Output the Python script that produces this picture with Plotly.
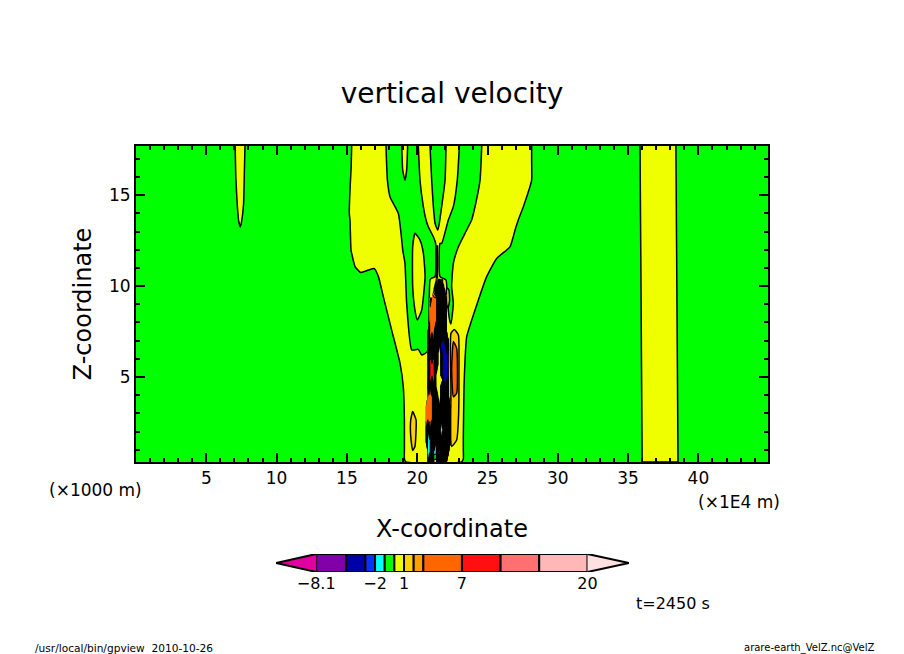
import numpy as np
import plotly.graph_objects as go

# ---- contour levels and their colours (colour bar order, low to high)
levels = [-8.1, -5, -3, -2, -1, 0, 1, 2, 3, 7, 11, 15, 20]
colors = ["#E000A0", "#7F00A8", "#0000A8", "#0033FF", "#00FFFF", "#00FF00", "#F0FF00",
          "#FFD000", "#FF9F00", "#FF6600", "#FF1010", "#FF7070", "#FFB8B8", "#FFE0E0"]
bar_labels = ["\u22128.1", "\u22122", "1", "7", "20"]
bar_label_values = [-8.1, -2, 1, 7, 20]
tip_low, tip_high = -12.26, 24.3

# ---- contour boundaries (X in 1E4 m, Z in 1000 m)
yellow_small_x = [7.05, 7.1, 7.2, 7.3, 7.42, 7.5, 7.65, 7.7, 7.75]
yellow_small_z = [17.7, 16, 14.5, 13.6, 13.25, 13.5, 14.5, 16, 17.7]
yellow_band_x = [35.85, 35.9, 36.0, 38.55, 38.45, 38.4]
yellow_band_z = [17.7, 10, 0.33, 0.33, 10, 17.7]
yellow_main_x = [15.34, 15.3, 15.22, 15.17, 15.22, 15.29, 15.34, 15.58, 15.98, 16.53, 16.95, 17.24, 17.59,
                 18.18, 18.78, 19.01, 19.09, 19.09, 19.09, 19.2, 23.15, 23.28, 23.28, 23.28, 23.33, 23.40,
                 23.52, 24.35, 24.94, 25.65, 26.6, 26.96, 27.19, 27.55, 28.14, 28.14, 28.14]
yellow_main_z = [17.7, 16.5, 15.27, 14.0, 13.63, 11.98, 11.8, 11.07, 10.75, 10.88, 10.96, 10.52, 9.42,
                 7.59, 5.75, 4.47, 2.64, 1.0, 0.5, 0.33, 0.33, 0.5, 1.0, 1.73, 4.47, 5.94,
                 7.22, 9.23, 10.52, 11.52, 12.16, 13.08, 13.63, 14.36, 15.82, 16.8, 17.7]
green_left_x = [17.78, 17.88, 18.07, 18.66, 18.9, 18.97, 19.13, 19.25, 19.61, 20.08, 20.32, 20.72,
                20.91, 21.03, 21.27, 21.31, 21.15, 20.79, 20.63, 20.44, 20.2, 20.08]
green_left_z = [17.7, 15.82, 14.9, 13.99, 12.53, 11.98, 11.25, 9.05, 6.49, 6.52, 6.21, 6.4,
                10.33, 10.43, 10.52, 12.35, 12.71, 13.26, 13.63, 14.36, 15.82, 17.7]
green_inner_x = [20.91, 21.03, 21.15, 21.27, 21.46, 21.57, 21.74, 21.98, 22.05]
green_inner_z = [17.7, 15.82, 14.36, 13.44, 13.07, 13.44, 14.36, 15.82, 17.7]
green_right_x = [23.0, 22.85, 22.57, 22.21, 21.74, 21.62, 21.62, 22.05, 22.14, 22.33, 22.4, 22.57,
                 22.45, 22.57, 22.93, 23.4, 23.87, 24.11, 24.47, 24.59]
green_right_z = [17.7, 15.82, 14.36, 13.62, 12.34, 12.35, 10.52, 10.33, 9.23, 8.04, 7.92, 9.05,
                 9.97, 11.25, 12.16, 12.9, 13.63, 14.36, 15.82, 17.7]
yellow_finger_x = [18.9, 18.97, 19.13, 19.25, 19.32]
yellow_finger_z = [17.7, 16.37, 15.82, 16.37, 17.7]
yellow_tongue_x = [19.84, 19.68, 19.68, 19.84, 20.01, 20.32, 20.56, 20.44, 20.2]
yellow_tongue_z = [12.9, 12.17, 9.97, 8.68, 8.14, 8.68, 10.52, 11.8, 12.53]
gold_right_x = [22.64, 22.93, 22.97, 22.93, 22.81, 22.45, 22.4, 22.4]
gold_right_z = [7.62, 7.31, 5.39, 2.64, 1.54, 1.18, 4.47, 7.4]
orange_right_x = [22.57, 22.81, 22.81, 22.57, 22.45]
orange_right_z = [6.95, 6.58, 4.11, 3.92, 5.39]
gold_low_x = [19.68, 19.92, 19.84, 19.68, 19.54, 19.54]
gold_low_z = [3.1, 2.64, 1.18, 0.96, 1.73, 2.64]
gold_top_x = [22.1, 22.25, 22.3, 22.2, 22.1]
gold_top_z = [9.9, 9.8, 9.2, 8.8, 9.0]
spire_x = [21.36, 21.36, 21.44, 21.44]
spire_z = [10.4, 12.2, 12.2, 10.4]

# ---- strongly varying core: velocity on a small grid (m/s)
core_x = [20.6, 20.75, 20.9, 21.05, 21.2, 21.35, 21.5, 21.65, 21.8, 21.95, 22.1, 22.25, 22.4, 22.55]
core_z = [0.33, 0.9, 1.5, 2.1, 2.7, 3.3, 3.9, 4.5, 5.1, 5.7, 6.3, 6.9, 7.5, 8.1, 8.7, 9.3, 9.9, 10.4]
_ = None
core_w = [
    [_, -6, 14, -6, .5, .5, 14, -6, 14, .5, 14, _, _, _],
    [_, -1.5, -1.5, -6, -1.5, -1.5, 14, -6, 14, -6, 14, -6, _, _],
    [14, -1.5, -1.5, -6, 14, -1.5, 14, -6, 14, -6, 14, -6, 14, _],
    [14, -6, 14, -6, 14, -6, 14, -1.5, -1.5, -6, 14, -6, 14, _],
    [5, 5, 5, 5, 14, -6, 14, -6, 14, -6, 14, -6, 14, _],
    [5, 5, 5, 5, 14, -6, 14, -6, 14, -6, 14, -6, 14, _],
    [_, 5, 5, 5, 14, -6, .5, .5, 14, -6, 14, -6, _, _],
    [_, -6, 14, -6, 14, .5, .5, .5, 14, -6, -1.5, -6, _, _],
    [_, -6, 9, 9, 9, .5, .5, .5, -4, -4, -4, -6, _, _],
    [_, -6, 9, 9, 9, -6, .5, .5, -4, -4, -4, -6, _, _],
    [_, -6, 14, -6, 14, -6, .5, .5, -4, -4, -4, -6, _, _],
    [_, -6, 14, -6, 14, -6, 14, -6, -4, -4, 14, -6, _, _],
    [_, -6, 5, 5, 5, -6, 14, -6, 14, -6, 14, _, _, _],
    [_, _, 5, 5, 5, 5, 14, -6, 14, -6, 14, _, _, _],
    [_, _, 5, 5, 5, 5, 14, -6, 14, -6, 14, _, _, _],
    [_, _, 14, 5, 5, 5, 14, -6, 14, -6, 14, _, _, _],
    [_, _, _, _, .5, -6, 14, -6, 14, 2, _, _, _, _],
    [_, _, _, _, _, .3, 2, .3, 2, _, _, _, _, _],
]

GREEN, YELLOW, GOLD, ORANGE = colors[5], colors[6], colors[7], colors[9]
W, H = 904, 654
BLACK = "#000000"
FONT = "DejaVu Sans"

fig = go.Figure()


def region(xs, zs, color, closed=False, curved=True):
    if closed:
        xs, zs = xs + xs[:1], zs + zs[:1]
    shape = dict(shape="spline", smoothing=0.45) if curved else dict(shape="linear")
    fig.add_trace(go.Scatter(x=xs, y=zs, mode="lines", fill="toself", fillcolor=color,
                             line=dict(color=BLACK, width=1.5, **shape),
                             hoverinfo="skip", showlegend=False))


region(yellow_small_x, yellow_small_z, YELLOW)
region(yellow_band_x, yellow_band_z, YELLOW, curved=False)
region(yellow_main_x, yellow_main_z, YELLOW)
region(green_left_x, green_left_z, GREEN)
region(green_inner_x, green_inner_z, GREEN)
region(green_right_x, green_right_z, GREEN)
region(yellow_finger_x, yellow_finger_z, YELLOW)
region(yellow_tongue_x, yellow_tongue_z, YELLOW, closed=True)
region(gold_right_x, gold_right_z, GOLD, closed=True)
region(orange_right_x, orange_right_z, ORANGE, closed=True)
region(gold_low_x, gold_low_z, GOLD, closed=True)
region(gold_top_x, gold_top_z, GOLD, closed=True)
region(spire_x, spire_z, YELLOW, closed=True, curved=False)

# The plotted levels are unevenly spaced, so the field is mapped on to level number.
core_level = np.interp(np.array(core_w, dtype=float), levels, np.arange(len(levels)))
n = len(colors) - 1
fig.add_trace(go.Contour(
    x=core_x, y=core_z, z=core_level, connectgaps=False, showscale=False, hoverinfo="skip",
    colorscale=[[i / n, c] for i, c in enumerate(colors)],
    contours=dict(start=0, end=len(levels) - 1, size=1, coloring="fill"),
    line=dict(color=BLACK, width=1.1, smoothing=0),
    xaxis="x3", yaxis="y3",
))

# ---- colour bar on its own axes, in velocity units
for lo, hi, c in zip(levels[:-1], levels[1:], colors[1:-1]):
    fig.add_trace(go.Bar(x=[hi - lo], base=[lo], y=[0], orientation="h", width=1, marker=dict(
        color=c, line=dict(color=BLACK, width=2)), xaxis="x2", yaxis="y2", showlegend=False,
        hoverinfo="skip"))
for xs, c in (([levels[0], tip_low, levels[0]], colors[0]), ([levels[-1], tip_high, levels[-1]], colors[-1])):
    fig.add_trace(go.Scatter(x=xs, y=[-0.5, 0, 0.5], mode="lines", fill="toself", fillcolor=c,
                             line=dict(color=BLACK, width=2), xaxis="x2", yaxis="y2",
                             showlegend=False, hoverinfo="skip"))

fig.add_shape(type="rect", xref="x domain", yref="y domain", x0=0, x1=1, y0=0, y1=1,
              fillcolor=GREEN, line_width=0, layer="below")

fig.update_layout(
    width=W, height=H, margin=dict(l=0, r=0, t=0, b=0), paper_bgcolor="white", plot_bgcolor="white",
    font=dict(family=FONT, color=BLACK), barmode="overlay", showlegend=False,
    title=dict(text="vertical velocity", x=452 / W, xanchor="center", y=1 - 93 / H, yanchor="middle",
               font=dict(size=28)),
    xaxis=dict(domain=[136 / W, 768 / W], range=[0.0, 44.95], anchor="y", tickvals=[5, 10, 15, 20, 25, 30, 35, 40],
               ticks="inside", ticklen=9, tickwidth=2, tickcolor=BLACK, showgrid=False, zeroline=False,
               showline=True, linewidth=2, linecolor=BLACK, mirror="ticks", tickfont=dict(size=17),
               minor=dict(dtick=1, ticks="inside", ticklen=4, tickwidth=1.5, tickcolor=BLACK, showgrid=False),
               title=dict(text="X-coordinate", font=dict(size=24), standoff=33)),
    yaxis=dict(domain=[1 - 462 / H, 1 - 146 / H], range=[0.33, 17.7], anchor="x", tickvals=[5, 10, 15],
               ticks="inside", ticklen=9, tickwidth=2, tickcolor=BLACK, showgrid=False, zeroline=False,
               showline=True, linewidth=2, linecolor=BLACK, mirror="ticks", tickfont=dict(size=17),
               minor=dict(dtick=1, ticks="inside", ticklen=4, tickwidth=1.5, tickcolor=BLACK, showgrid=False),
               title=dict(text="Z-coordinate", font=dict(size=24), standoff=11)),
    xaxis3=dict(overlaying="x", matches="x", anchor="y3", visible=False),
    yaxis3=dict(overlaying="y", matches="y", anchor="x3", visible=False),
    xaxis2=dict(domain=[276 / W, 629 / W], range=[tip_low, tip_high], anchor="y2", tickvals=bar_label_values,
                ticktext=bar_labels, ticks="", showgrid=False, zeroline=False, showline=False,
                tickfont=dict(size=16)),
    yaxis2=dict(domain=[1 - 572 / H, 1 - 554 / H], range=[-0.5, 0.5], anchor="x2", visible=False),
    annotations=[
        dict(text="(\u00d71000 m)", x=95 / W, y=1 - 490 / H, font=dict(size=17)),
        dict(text="(\u00d71E4 m)", x=739 / W, y=1 - 502 / H, font=dict(size=17)),
        dict(text="t=2450 s", x=673 / W, y=1 - 603 / H, font=dict(size=16)),
        dict(text="/usr/local/bin/gpview  2010-10-26", x=33 / W, y=1 - 648 / H, xanchor="left", font=dict(size=10.6)),
        dict(text="arare-earth_VelZ.nc@VelZ", x=877 / W, y=1 - 648 / H, xanchor="right", font=dict(size=10)),
    ],
)
for a in fig.layout.annotations:
    a.update(xref="paper", yref="paper", showarrow=False, yanchor="middle")
    if a.xanchor is None:
        a.xanchor = "center"

fig.write_html("out.html", post_script="document.body.style.margin='0';",
               config={"displayModeBar": False})
